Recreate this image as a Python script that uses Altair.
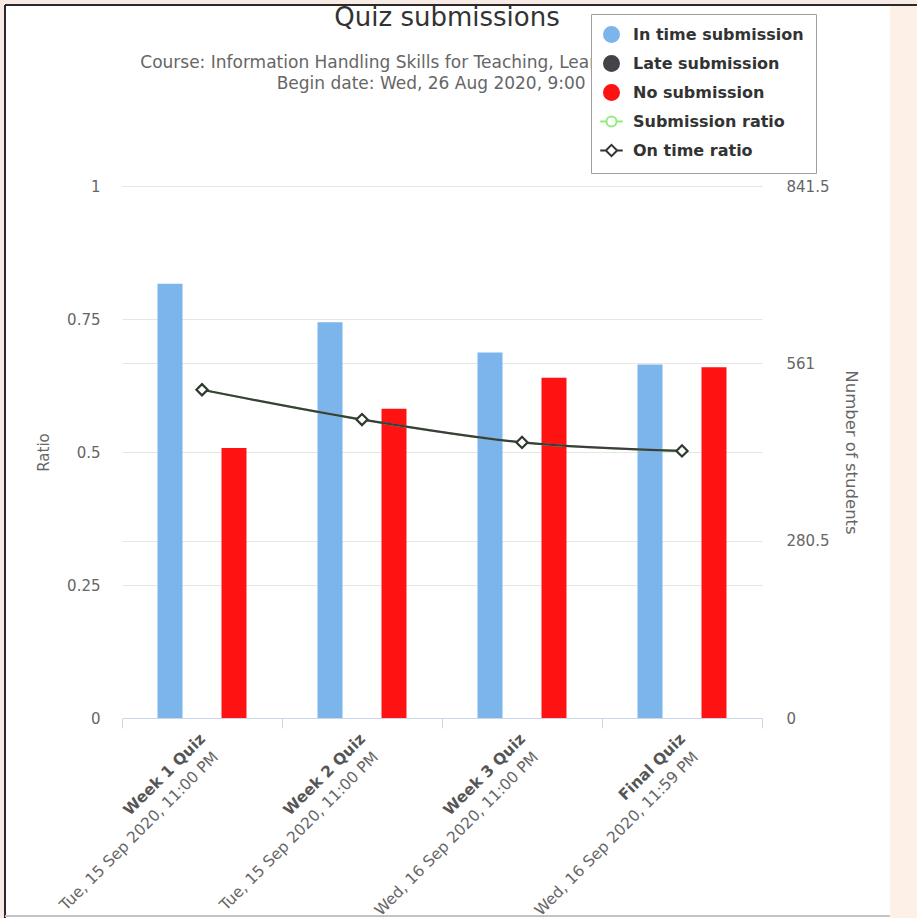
import altair as alt
import pandas as pd

# ---------------- data ----------------
quizzes = ["Week 1 Quiz", "Week 2 Quiz", "Week 3 Quiz", "Final Quiz"]
due_dates = [
    "Tue, 15 Sep 2020, 11:00 PM",
    "Tue, 15 Sep 2020, 11:00 PM",
    "Wed, 16 Sep 2020, 11:00 PM",
    "Wed, 16 Sep 2020, 11:59 PM",
]
in_time = [687, 626, 578, 559]
late = [0, 0, 0, 0]
no_submission = [427, 489, 538, 555]
submission_ratio = [0.617, 0.561, 0.518, 0.502]
on_time_ratio = [0.617, 0.561, 0.518, 0.502]

series_names = ["In time submission", "Late submission", "No submission",
                "Submission ratio", "On time ratio"]
series_fill = ["#7cb5ec", "#434348", "#ff1212", "white", "white"]
series_stroke = ["#7cb5ec", "#434348", "#ff1212", "#90ed7d", "#333333"]
bar_series = series_names[:3]
ratio_ticks = [0, 0.25, 0.5, 0.75, 1]
student_ticks = [0, 280.5, 561, 841.5]

FONT = "DejaVu Sans"

bars_df = pd.DataFrame(
    [{"quiz": q, "series": s, "students": v}
     for s, vals in zip(bar_series, [in_time, late, no_submission])
     for q, v in zip(quizzes, vals)]
)
ratio_df = pd.DataFrame(
    [{"quiz": q, "series": s, "ratio": v}
     for s, vals in zip(["Submission ratio", "On time ratio"], [submission_ratio, on_time_ratio])
     for q, v in zip(quizzes, vals)]
)
labels_df = pd.DataFrame({"quiz": quizzes, "date": due_dates})
legend_df = pd.DataFrame({"series": series_names})
one = pd.DataFrame({"k": [0]})

# ---------------- encodings ----------------
x_enc = alt.X(
    "quiz:N",
    scale=alt.Scale(domain=quizzes, paddingInner=0, paddingOuter=0),
    axis=alt.Axis(title=None, labels=False, grid=False, ticks=True, tickBand="extent",
                  tickSize=10, tickColor="#ccd6eb", domainColor="#ccd6eb", domainWidth=1),
)

circ_path = ("M-0.67,0 A0.67,0.67 0 1,1 0.67,0 A0.67,0.67 0 1,1 -0.67,0 Z "
             "M-1.5,0 L-0.67,0 M0.67,0 L1.5,0")
dia_path = "M0,-0.75 L0.75,0 L0,0.75 L-0.75,0 Z M-1.5,0 L-0.75,0 M0.75,0 L1.5,0"
series_shapes = ["circle", "circle", "circle", circ_path, dia_path]

legend = alt.Legend(
    title=None, orient="none", legendX=469, legendY=-172, zindex=1,
    fillColor="white", strokeColor="#a0a0a0", padding=12, rowPadding=6, gridAlign="all",
    symbolSize=225, symbolStrokeWidth=2, labelOffset=13,
    symbolFillColor="white", symbolStrokeColor="#333333", symbolOpacity=1,
    labelFont=FONT, labelFontSize=16, labelFontWeight="bold", labelColor="#333333",
    labelLimit=400,
)
fill_enc = alt.Fill("series:N", scale=alt.Scale(domain=series_names, range=series_fill),
                    legend=legend)
stroke_enc = alt.Stroke("series:N", scale=alt.Scale(domain=series_names, range=series_stroke),
                        legend=legend)
shape_enc = alt.Shape("series:N", scale=alt.Scale(domain=series_names, range=series_shapes),
                      legend=legend)

y_ratio = alt.Y(
    "ratio:Q",
    scale=alt.Scale(domain=[0, 1], nice=False),
    axis=alt.Axis(orient="left", values=ratio_ticks, format=".4~g", title="Ratio",
                  grid=True, gridColor="#e6e6e6", domain=False, ticks=False, tickSize=0,
                  labelPadding=22, labelFont=FONT, labelFontSize=15, labelColor="#666666",
                  titleFont=FONT, titleFontSize=15, titleColor="#666666",
                  titleFontWeight="normal", titlePadding=15),
)
y_students = alt.Y(
    "students:Q",
    scale=alt.Scale(domain=[0, 841.5], nice=False),
    axis=alt.Axis(orient="right", values=student_ticks, format=".4~g", title="Number of students",
                  grid=True, gridColor="#e6e6e6", domain=False, ticks=False, tickSize=0,
                  labelPadding=24, labelFont=FONT, labelFontSize=15, labelColor="#666666",
                  titleFont=FONT, titleFontSize=16.5, titleColor="#666666",
                  titleFontWeight="normal", titlePadding=14),
)

# ---------------- frame decoration ----------------
PINK = "#f8ebe6"
PEACH = "#fdf0e7"
deco = [
    alt.Chart(one).mark_rect(color=PINK).encode(
        x=alt.value(-122), x2=alt.value(795), y=alt.value(-186), y2=alt.value(-181)),
    alt.Chart(one).mark_rect(color=PINK).encode(
        x=alt.value(-122), x2=alt.value(-117), y=alt.value(-186), y2=alt.value(732)),
    alt.Chart(one).mark_rect(color=PEACH).encode(
        x=alt.value(768), x2=alt.value(795), y=alt.value(-181), y2=alt.value(732)),
    alt.Chart(one).mark_rule(color="#2a2a2a", strokeWidth=2).encode(
        x=alt.value(-117), x2=alt.value(795), y=alt.value(-181)),
    alt.Chart(one).mark_rule(color="#2a2a2a", strokeWidth=2).encode(
        x=alt.value(-117), y=alt.value(-181), y2=alt.value(732)),
    alt.Chart(one).mark_rule(color="#c4c4c4", strokeWidth=2).encode(
        x=alt.value(-117), x2=alt.value(768), y=alt.value(730)),
]

# ---------------- marks ----------------
bars = alt.Chart(bars_df).mark_bar(width=25).encode(
    x=x_enc,
    xOffset=alt.XOffset("series:N", scale=alt.Scale(domain=bar_series,
                                                    paddingInner=0,
                                                    paddingOuter=1)),
    y=y_students,
    fill=fill_enc,
)

# legend-only layer (no visible marks; carries the merged fill/stroke/shape legend)
legend_layer = alt.Chart(legend_df).transform_filter("false").mark_point().encode(
    fill=fill_enc, stroke=stroke_enc, shape=shape_enc
)

ratio_base = alt.Chart(ratio_df).encode(x=x_enc, y=y_ratio)
line_sub = ratio_base.transform_filter("datum.series === 'Submission ratio'").mark_line(
    interpolate="monotone", strokeWidth=2, color="#90ed7d")
line_on = ratio_base.transform_filter("datum.series === 'On time ratio'").mark_line(
    interpolate="monotone", strokeWidth=2.2, color="#3d3d3d")
pts_sub = ratio_base.transform_filter("datum.series === 'Submission ratio'").mark_point(
    shape="circle", filled=True, color="#90ed7d", size=100, opacity=1)
pts_on = ratio_base.transform_filter("datum.series === 'On time ratio'").mark_point(
    shape="diamond", filled=True, fill="white", stroke="#2e3a2e", strokeWidth=2.2,
    size=125, opacity=1)
ratio_layer = alt.layer(line_sub, line_on, pts_sub, pts_on)

label_name = alt.Chart(labels_df).mark_text(
    angle=315, align="right", baseline="middle", dx=8, dy=-7,
    font=FONT, fontSize=15.5, fontWeight="bold", color="#555555"
).encode(x=x_enc, y=alt.value(561), text="quiz:N")
label_date = alt.Chart(labels_df).mark_text(
    angle=315, align="right", baseline="middle", dx=4.5, dy=15,
    font=FONT, fontSize=15.5, color="#666666"
).encode(x=x_enc, y=alt.value(561), text="date:N")

chart = alt.layer(
    *deco, bars, ratio_layer, label_name, label_date, legend_layer
).resolve_scale(
    y="independent"
).properties(
    width=640, height=532,
    padding={"left": 122, "top": 186, "right": 155, "bottom": 200},
    autosize=alt.AutoSizeParams(type="none"),
    background="white",
    title=alt.TitleParams(
        text="Quiz submissions",
        subtitle=["Course: Information Handling Skills for Teaching, Learning and Research",
                  "Begin date: Wed, 26 Aug 2020, 9:00 AM"],
        anchor="middle", frame="group", dx=5, offset=-92,
        font=FONT, fontSize=26, fontWeight="normal", color="#333333",
        subtitleFont=FONT, subtitleFontSize=17, subtitleColor="#666666",
        subtitlePadding=24, subtitleLineHeight=21,
    ),
).configure_view(stroke=None)

chart.save("out.html", embed_options={"renderer": "svg", "actions": False})
